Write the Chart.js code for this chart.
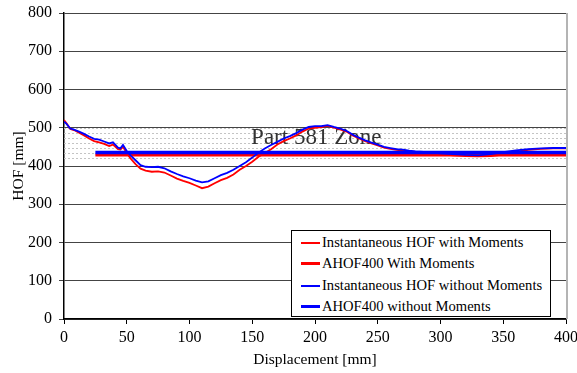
<!DOCTYPE html>
<html>
<head>
<meta charset="utf-8">
<script src="https://cdn.jsdelivr.net/npm/chart.js@4"></script>
<style>
html,body{margin:0;padding:0;background:#fff;}
#wrap{position:relative;width:577px;height:373px;}
#legend{position:absolute;left:291px;top:230px;width:260px;height:87px;border:1px solid #000;background:#fff;box-sizing:border-box;font-family:"Liberation Serif",serif;font-size:14.6px;color:#000;}
.row{position:absolute;left:9px;height:17px;line-height:17px;white-space:nowrap;}
.sw{display:inline-block;width:19px;vertical-align:middle;margin-right:2px;position:relative;top:-1px;}
</style>
</head>
<body>
<div id="wrap">
<canvas id="c" width="577" height="373"></canvas>
<div id="legend"></div>
</div>
<script>
const displacement = [0,2,5,8,12,16,20,24,28,32,36,39,41,43,45,47,50,53,57,61,65,70,75,80,85,90,95,100,105,110,115,120,125,130,135,140,145,150,155,160,165,170,175,180,185,190,195,200,205,210,215,220,225,230,235,240,245,250,255,260,265,270,275,280,290,300,310,320,330,340,350,360,370,380,390,400];
const hofWithMoments = [520,512,497,494,487,480,472,465,462,458,452,456,450,444,443,450,434,420,405,393,388,385,386,383,375,367,361,356,349,342,346,355,363,369,378,390,400,411,424,434,444,456,465,472,480,490,498,500,502,505,500,496,490,480,472,465,459,454,448,445,442,440,438,437,434,431,428,426,425,426,430,437,442,445,446,446];
const hofWithoutMoments = [516,510,498,495,490,484,477,471,469,464,459,462,455,448,446,455,439,428,415,402,398,397,398,394,386,379,373,368,362,357,360,368,376,382,390,400,410,422,435,446,455,463,472,478,486,495,502,504,504,507,502,498,492,482,474,467,461,456,450,447,444,443,440,438,436,433,431,429,428,431,436,441,444,446,447,447];
const ahofRange = [25, 400];
const ahofWithMoments = [429, 429];
const ahofWithoutMoments = [435, 435];
const zoneLines = [500, 487, 474, 461, 448, 435, 422];
const zoneLabel = "Part 581 Zone";
const zoneLabelPos = [201, 473];
const yTicks = [0,100,200,300,400,500,600,700,800];
const xTicks = [0,50,100,150,200,250,300,350,400];
const seriesNames = ["Instantaneous HOF with Moments","AHOF400 With Moments","Instantaneous HOF without Moments","AHOF400 without Moments"];

const pts = (xs, ys) => xs.map((x,i)=>({x:x,y:ys[i]}));
const RED = '#ff0000', BLUE = '#0000ff';
const FONT = '"Liberation Serif", "Times New Roman", serif';

const zonePlugin = {
  id:'zone',
  beforeDatasetsDraw(chart){
    const {ctx, chartArea:a, scales:{x,y}} = chart;
    ctx.save();
    ctx.strokeStyle = '#c4c4c4';
    ctx.lineWidth = 1;
    ctx.setLineDash([2,2]);
    zoneLines.forEach(v=>{
      const py = Math.round(y.getPixelForValue(v))+0.5;
      ctx.beginPath(); ctx.moveTo(a.left, py); ctx.lineTo(a.right, py); ctx.stroke();
    });
    ctx.setLineDash([]);
    ctx.fillStyle = '#333';
    ctx.font = '23px ' + FONT;
    ctx.textAlign = 'center'; ctx.textBaseline = 'middle';
    ctx.fillText(zoneLabel, x.getPixelForValue(zoneLabelPos[0]), y.getPixelForValue(zoneLabelPos[1]));
    ctx.restore();
  },
  afterDraw(chart){
    const {ctx, chartArea:a} = chart;
    ctx.save();
    ctx.strokeStyle = '#b4b4b4';
    ctx.lineWidth = 2;
    ctx.beginPath(); ctx.moveTo(a.right+1, a.top); ctx.lineTo(a.right+1, a.bottom); ctx.stroke();
    ctx.restore();
  }
};

new Chart(document.getElementById('c'), {
  type:'line',
  data:{
    datasets:[
      {label:seriesNames[0], data:pts(displacement,hofWithMoments), borderColor:RED, borderWidth:1.8, pointRadius:0, tension:0, order:3},
      {label:seriesNames[1], data:pts(ahofRange,ahofWithMoments), borderColor:RED, borderWidth:3, pointRadius:0, order:2},
      {label:seriesNames[2], data:pts(displacement,hofWithoutMoments), borderColor:BLUE, borderWidth:1.8, pointRadius:0, tension:0, order:1},
      {label:seriesNames[3], data:pts(ahofRange,ahofWithoutMoments), borderColor:BLUE, borderWidth:3.5, pointRadius:0, order:0}
    ]
  },
  options:{
    responsive:false, animation:false,
    layout:{padding:{top:13,right:11,left:0,bottom:0}},
    plugins:{legend:{display:false}, tooltip:{enabled:false}},
    scales:{
      x:{type:'linear', min:0, max:400,
        afterBuildTicks(s){ s.ticks = xTicks.map(v=>({value:v})); },
        afterFit(s){ s.height = 54; s.paddingLeft = 0; s.paddingRight = 0; },
        grid:{drawOnChartArea:false, drawTicks:true, tickLength:5, color:'#000'},
        border:{color:'#000', width:1.5},
        ticks:{font:{family:FONT,size:16}, color:'#000', padding:4, maxRotation:0},
        title:{display:true, text:'Displacement [mm]', font:{family:FONT,size:15.5}, color:'#000', padding:{top:0,bottom:4}}
      },
      y:{min:0, max:800,
        afterBuildTicks(s){ s.ticks = yTicks.map(v=>({value:v})); },
        afterFit(s){ s.width = 64; s.paddingTop = 0; s.paddingBottom = 0; },
        grid:{color:'#444', lineWidth:1, drawTicks:true, tickLength:5},
        border:{color:'#000', width:1.5},
        ticks:{font:{family:FONT,size:16}, color:'#000', padding:7},
        title:{display:true, text:'HOF [mm]', font:{family:FONT,size:15.5}, color:'#000', padding:{top:10,bottom:4}}
      }
    }
  },
  plugins:[zonePlugin]
});

const leg = document.getElementById('legend');
const legStyles = [[RED,2],[RED,3],[BLUE,2],[BLUE,3]];
const rowTops = [3,24,46,67];
seriesNames.forEach((n,i)=>{
  const r = document.createElement('div');
  r.className='row'; r.style.top = rowTops[i]+'px';
  const s = document.createElement('span'); s.className='sw';
  s.style.borderTop = legStyles[i][1]+'px solid '+legStyles[i][0];
  r.appendChild(s); r.appendChild(document.createTextNode(n));
  leg.appendChild(r);
});
</script>
</body>
</html>
